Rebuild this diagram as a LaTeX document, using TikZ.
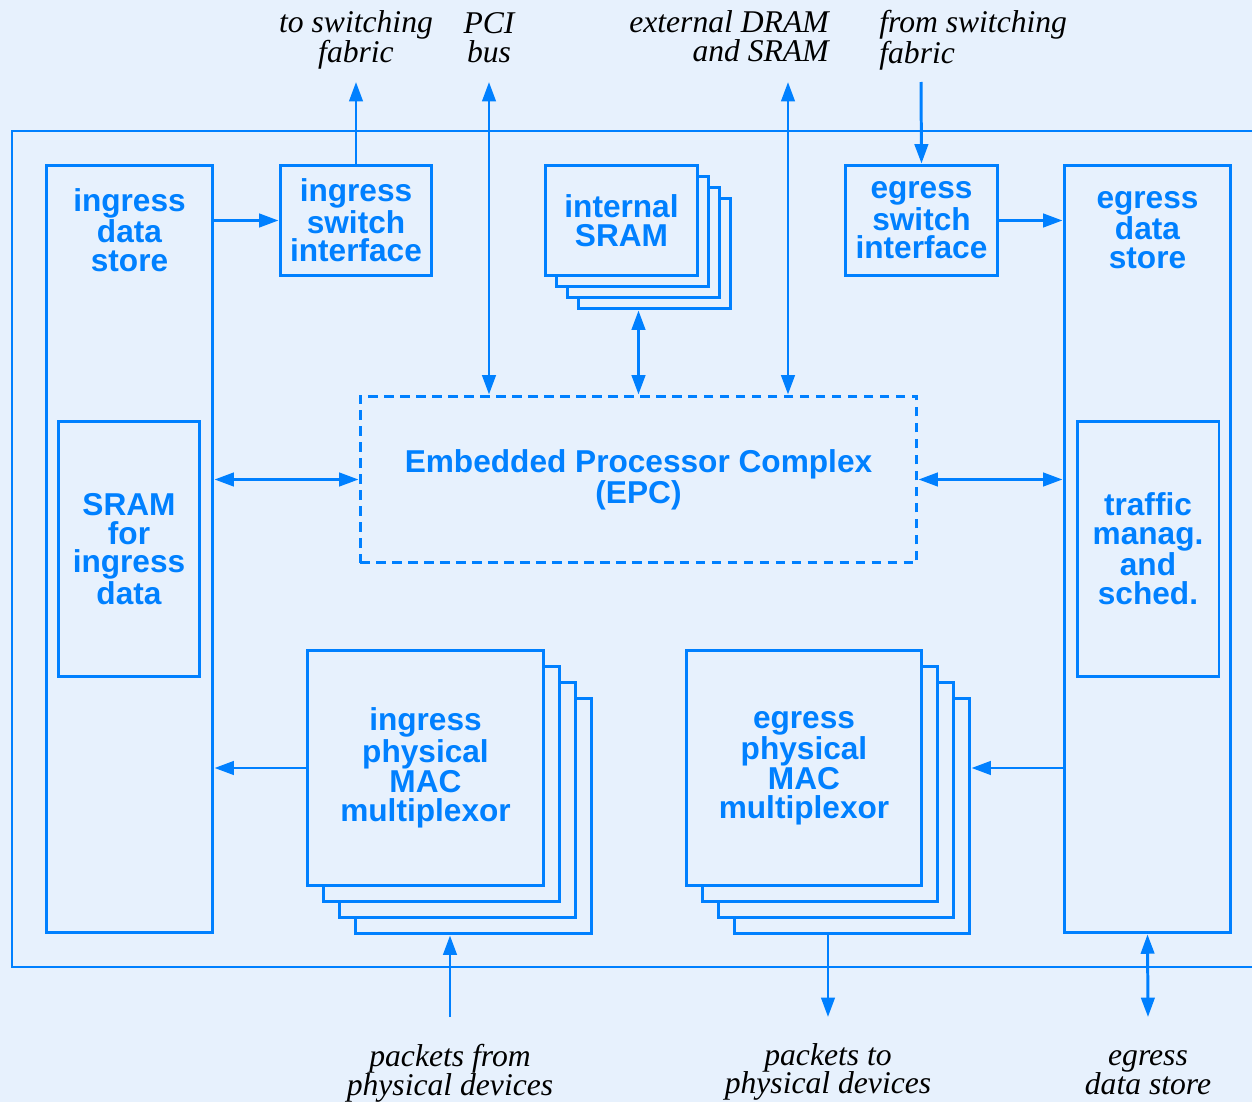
\documentclass[tikz,border=0pt]{standalone}
\usepackage{fontspec}
\setmainfont{Liberation Serif}
\setsansfont{Liberation Sans}
\usetikzlibrary{arrows.meta}
\definecolor{npblue}{RGB}{0,128,255}
\definecolor{npback}{RGB}{231,241,253}
\tikzset{
  unit/.style={draw=npblue, line width=1.7pt, fill=npback, inner sep=0pt,
    align=center, text=npblue, font=\fontsize{18}{16.3}\selectfont\sffamily\bfseries},
  unittext/.style={inner sep=0pt, align=center, text=npblue,
    font=\fontsize{18}{16.3}\selectfont\sffamily\bfseries},
  extern/.style={inner sep=0pt, font=\fontsize{18}{16.4}\selectfont\itshape},
  wire/.style={npblue, line width=1.7pt},
}

\begin{document}
\begin{tikzpicture}[x=0.02cm,y=-0.02cm,>={Triangle[length=11pt,width=7.6pt]}]
    \fill[npback] (0,0) rectangle (1252,1102);
    \useasboundingbox (0,0) rectangle (1252,1102);
    \clip (0,0) rectangle (1252,1102);
    % --- chip frame (open on the right)
    \draw[npblue, line width=1.5pt] (12,131) rectangle (1300,967);
    % --- data stores
    \node[unit, minimum width=3.34cm, minimum height=15.36cm] (ids) at (129.5,549) {};
    \node[unittext] (idstext) at (129.5,230) {ingress\\data\\store};
    \node[unit, minimum width=2.84cm, minimum height=5.12cm] (isram) at (129,549)
      {SRAM\\for\\ingress\\data};
    \node[unit, minimum width=3.34cm, minimum height=15.36cm] (eds) at (1147.5,549) {};
    \node[unittext] (edstext) at (1147.5,230) {egress\\data\\store};
    \node[unit, minimum width=2.84cm, minimum height=5.12cm] (tms) at (1148,549)
      {traffic\\manag.\\and\\sched.};
    % --- switch interfaces
    \node[unit, minimum width=3.04cm, minimum height=2.22cm] (isi) at (356,220.5)
      {ingress\\switch\\interface};
    \node[unit, minimum width=3.06cm, minimum height=2.22cm] (esi) at (921.5,220.5)
      {egress\\switch\\interface};
    % --- internal SRAM (stack of four)
    \foreach \k in {3,2,1}
      {\node[unit, minimum width=3.06cm, minimum height=2.22cm] (intsram\k)
        at ({621.5+11*\k},{220.5+11*\k}) {};}
    \node[unit, minimum width=3.06cm, minimum height=2.22cm] (intsram) at (621.5,220.5)
      {internal\\SRAM};
    % --- EPC
    \node[unit, dash pattern=on 5.5pt off 3.6pt, minimum width=11.14cm, minimum height=3.34cm]
      (epc) at (638.5,479.5) {Embedded Processor Complex\\(EPC)};
    % --- MAC multiplexors (stacks of four)
    \foreach \k in {3,2,1}
      {\node[unit, minimum width=4.74cm, minimum height=4.72cm] (imux\k)
        at ({425.5+16*\k},{768+16*\k}) {};
       \node[unit, minimum width=4.72cm, minimum height=4.72cm] (emux\k)
        at ({804+16*\k},{768+16*\k}) {};}
    \node[unit, minimum width=4.74cm, minimum height=4.72cm] (imux) at (425.5,768)
      {ingress\\physical\\MAC\\multiplexor};
    \node[unit, minimum width=4.72cm, minimum height=4.72cm] (emux) at (804,768)
      {egress\\physical\\MAC\\multiplexor};
    % --- outside world
    \node[extern, align=center] (tosf) at (356,40) {to switching\\fabric};
    \node[extern, align=center] (pci) at (489,38) {PCI\\bus};
    \node[extern, align=right, anchor=east] (dram) at (829,36) {external DRAM\\and SRAM};
    \node[extern, align=left, anchor=west] (fromsf) at (879,40) {from switching\\fabric};
    \node[extern, align=center] (pfrom) at (450,1073) {packets from\\physical devices};
    \node[extern, align=center] (pto) at (828,1072) {packets to\\physical devices};
    \node[extern, align=center] (edsout) at (1148,1073) {egress\\data store};
    \coordinate (tosfend) at (356,82);
    \coordinate (pciend) at (489,82);
    \coordinate (dramend) at (788,82);
    \coordinate (fromsfend) at (921,82);
    \coordinate (pfromend) at (450,1017);
    \coordinate (ptoend) at (828,1017);
    \coordinate (edsend) at (1148,1017);
    % --- connectors
    \draw[wire,->] (isi.west -| ids.east) -- (isi.west);
    \draw[wire,->] (isi.north) -- (tosfend);
    \draw[wire,<->] (pciend) -- (pciend |- epc.north);
    \draw[wire,<->] (epc.north |- intsram3.south) -- (epc.north);
    \draw[wire,<->] (dramend) -- (dramend |- epc.north);
    \draw[wire,->] (fromsfend) -- (esi.north);
    \draw[wire,->] (esi.east) -- (esi.east -| eds.west);
    \draw[wire,<->] (epc.west -| ids.east) -- (epc.west);
    \draw[wire,<->] (epc.east) -- (epc.east -| eds.west);
    \draw[wire,->] (imux.west) -- (imux.west -| ids.east);
    \draw[wire,->] (emux.east -| eds.west) -- (emux.east -| emux3.east);
    \draw[wire,->] (pfromend) -- (pfromend |- imux3.south);
    \draw[wire,->] (ptoend |- emux3.south) -- (ptoend);
    \draw[wire,<->] (eds.south) -- (edsend);
  \end{tikzpicture}
\end{document}
